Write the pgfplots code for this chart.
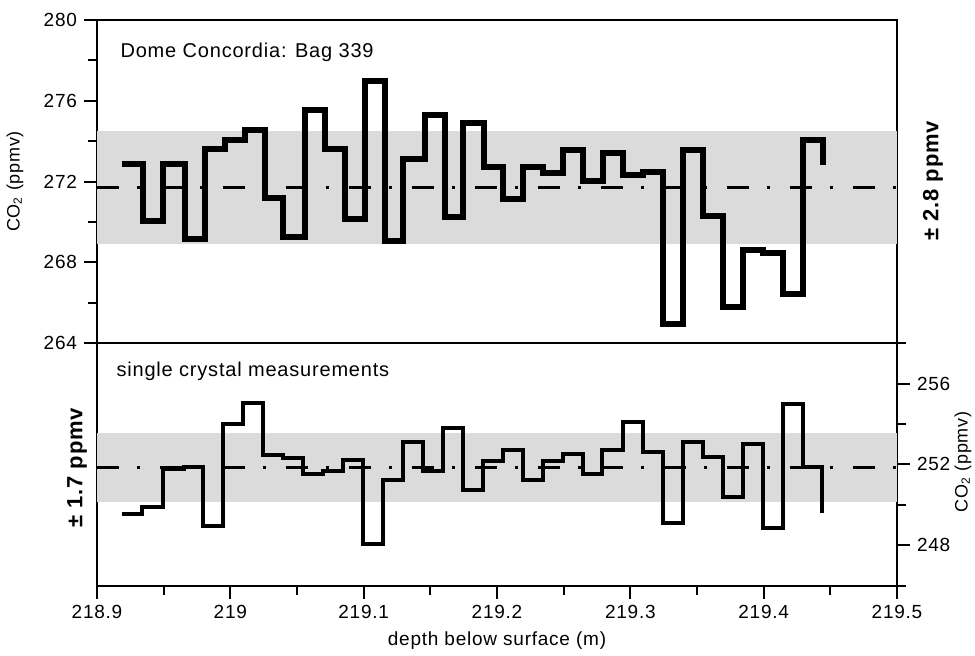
\documentclass[border=0pt]{standalone}
\usepackage{fontspec}
\setmainfont{Liberation Sans}[LetterSpace=4]
\usepackage{pgfplots}
\pgfplotsset{compat=1.18}

\pgfplotsset{
  panel/.style={scale only axis, width=400pt, xmin=218.9, xmax=219.5,
    axis line style={line width=1pt}, tick style={line width=1pt, black},
    tick align=outside, major tick length=6.5pt, minor tick length=4.5pt,
    /pgf/number format/assume math mode=true,
    tick label style={font=\fontsize{9.5}{11}\selectfont},
    clip mode=individual},
  band/.style={draw=none, fill=gray!28},
  mean/.style={black, dash pattern=on 11pt off 9pt on 1.5pt off 10pt},
}

\begin{document}
\begin{tikzpicture}
% top panel: bag sample
\begin{axis}[panel, name=top, at={(0,121.2pt)}, anchor=south west, height=161.6pt,
  ymin=264, ymax=280, ytick={264,268,272,276,280}, minor ytick={266,270,274,278},
  ytick pos=left, xtick=\empty,
  minor xtick={218.9,218.95,219,219.05,219.1,219.15,219.2,219.25,219.3,219.35,219.4,219.45,219.5},
  xtick pos=right]
\addplot[band] coordinates {(218.9,268.9) (219.5,268.9) (219.5,274.5) (218.9,274.5)} -- cycle;
\addplot[mean, line width=1.35pt] coordinates {(218.9,271.7) (219.5,271.7)};
\addplot[const plot, no marks, line width=3pt] coordinates {
(218.9185,272.89) (218.9347,270.07) (218.9497,272.89) (218.966,269.17) (218.981,273.63)
(218.996,274.08) (219.011,274.54) (219.026,271.20) (219.0397,269.25) (219.056,275.53)
(219.071,273.63) (219.086,270.16) (219.101,277.0) (219.116,269.08) (219.1297,273.14)
(219.146,275.29) (219.161,270.24) (219.1747,274.92) (219.1903,272.72) (219.2047,271.15)
(219.2197,272.72) (219.2347,272.42) (219.2497,273.58) (219.2647,272.03) (219.2797,273.41)
(219.2947,272.31) (219.3097,272.47) (219.3243,264.95) (219.3393,273.55) (219.3547,270.32)
(219.3693,265.77) (219.3843,268.62) (219.3993,268.45) (219.4147,266.44) (219.4297,274.08)
(219.4443,272.8)};
\node[anchor=west, inner sep=0pt, font=\fontsize{10}{12}\selectfont] at (rel axis cs:0.029,0.90) {Dome Concordia: Bag 339};
\node[rotate=90, font=\fontsize{9}{10}\selectfont] at (rel axis cs:-0.1025,0.5) {CO\textsubscript{2} (ppmv)};
\node[rotate=90, font=\bfseries\fontsize{11}{13}\selectfont] at (rel axis cs:1.045,0.503) {± 2.8 ppmv};
\end{axis}
% bottom panel: single crystals
\begin{axis}[panel, name=bot, at={(0,0)}, anchor=south west, height=121.2pt,
  ymin=246, ymax=258, ytick={248,252,256}, minor ytick={246,250,254,258},
  ytick pos=right, yticklabel pos=right,
  xtick={218.9,219,219.1,219.2,219.3,219.4,219.5},
  xticklabels={218.9,219,219.1,219.2,219.3,219.4,219.5},
  minor xtick={218.95,219.05,219.15,219.25,219.35,219.45},
  xtick pos=left]
\addplot[band] coordinates {(218.9,250.15) (219.5,250.15) (219.5,253.55) (218.9,253.55)} -- cycle;
\addplot[mean, line width=1.1pt] coordinates {(218.9,251.85) (219.5,251.85)};
\addplot[const plot, no marks, line width=2pt] coordinates {
(218.9185,249.54) (218.934,249.87) (218.9497,251.76) (218.9653,251.88) (218.9797,248.96)
(218.9947,253.99) (219.0097,255.05) (219.0247,252.47) (219.0397,252.34) (219.0547,251.52)
(219.0697,251.65) (219.0847,252.22) (219.0997,248.06) (219.1147,251.22) (219.1293,253.13)
(219.1447,251.65) (219.1597,253.82) (219.1747,250.72) (219.1897,252.17) (219.2043,252.72)
(219.2193,251.22) (219.2343,252.17) (219.2493,252.53) (219.2643,251.52) (219.2785,252.70)
(219.2943,254.10) (219.3097,252.62) (219.3243,249.08) (219.3393,253.11) (219.3543,252.39)
(219.3693,250.41) (219.3843,253.03) (219.3993,248.83) (219.4143,255.0) (219.4293,251.89)
(219.4435,249.59)};
\node[anchor=west, inner sep=0pt, font=\fontsize{10}{12}\selectfont] at (rel axis cs:0.024,0.885) {single crystal measurements};
\node[rotate=90, font=\fontsize{9}{10}\selectfont] at (rel axis cs:1.0825,0.51) {CO\textsubscript{2} (ppmv)};
\node[rotate=90, font=\bfseries\fontsize{11}{13}\selectfont] at (rel axis cs:-0.025,0.486) {± 1.7 ppmv};
\node[font=\fontsize{9.5}{11}\selectfont] at (rel axis cs:0.5,0) [yshift=-27.5pt] {depth below surface (m)};
\end{axis}
\pgfresetboundingbox
\path[use as bounding box] (-48.5pt,-35pt) rectangle (439pt,292.8pt);
\end{tikzpicture}
\end{document}
